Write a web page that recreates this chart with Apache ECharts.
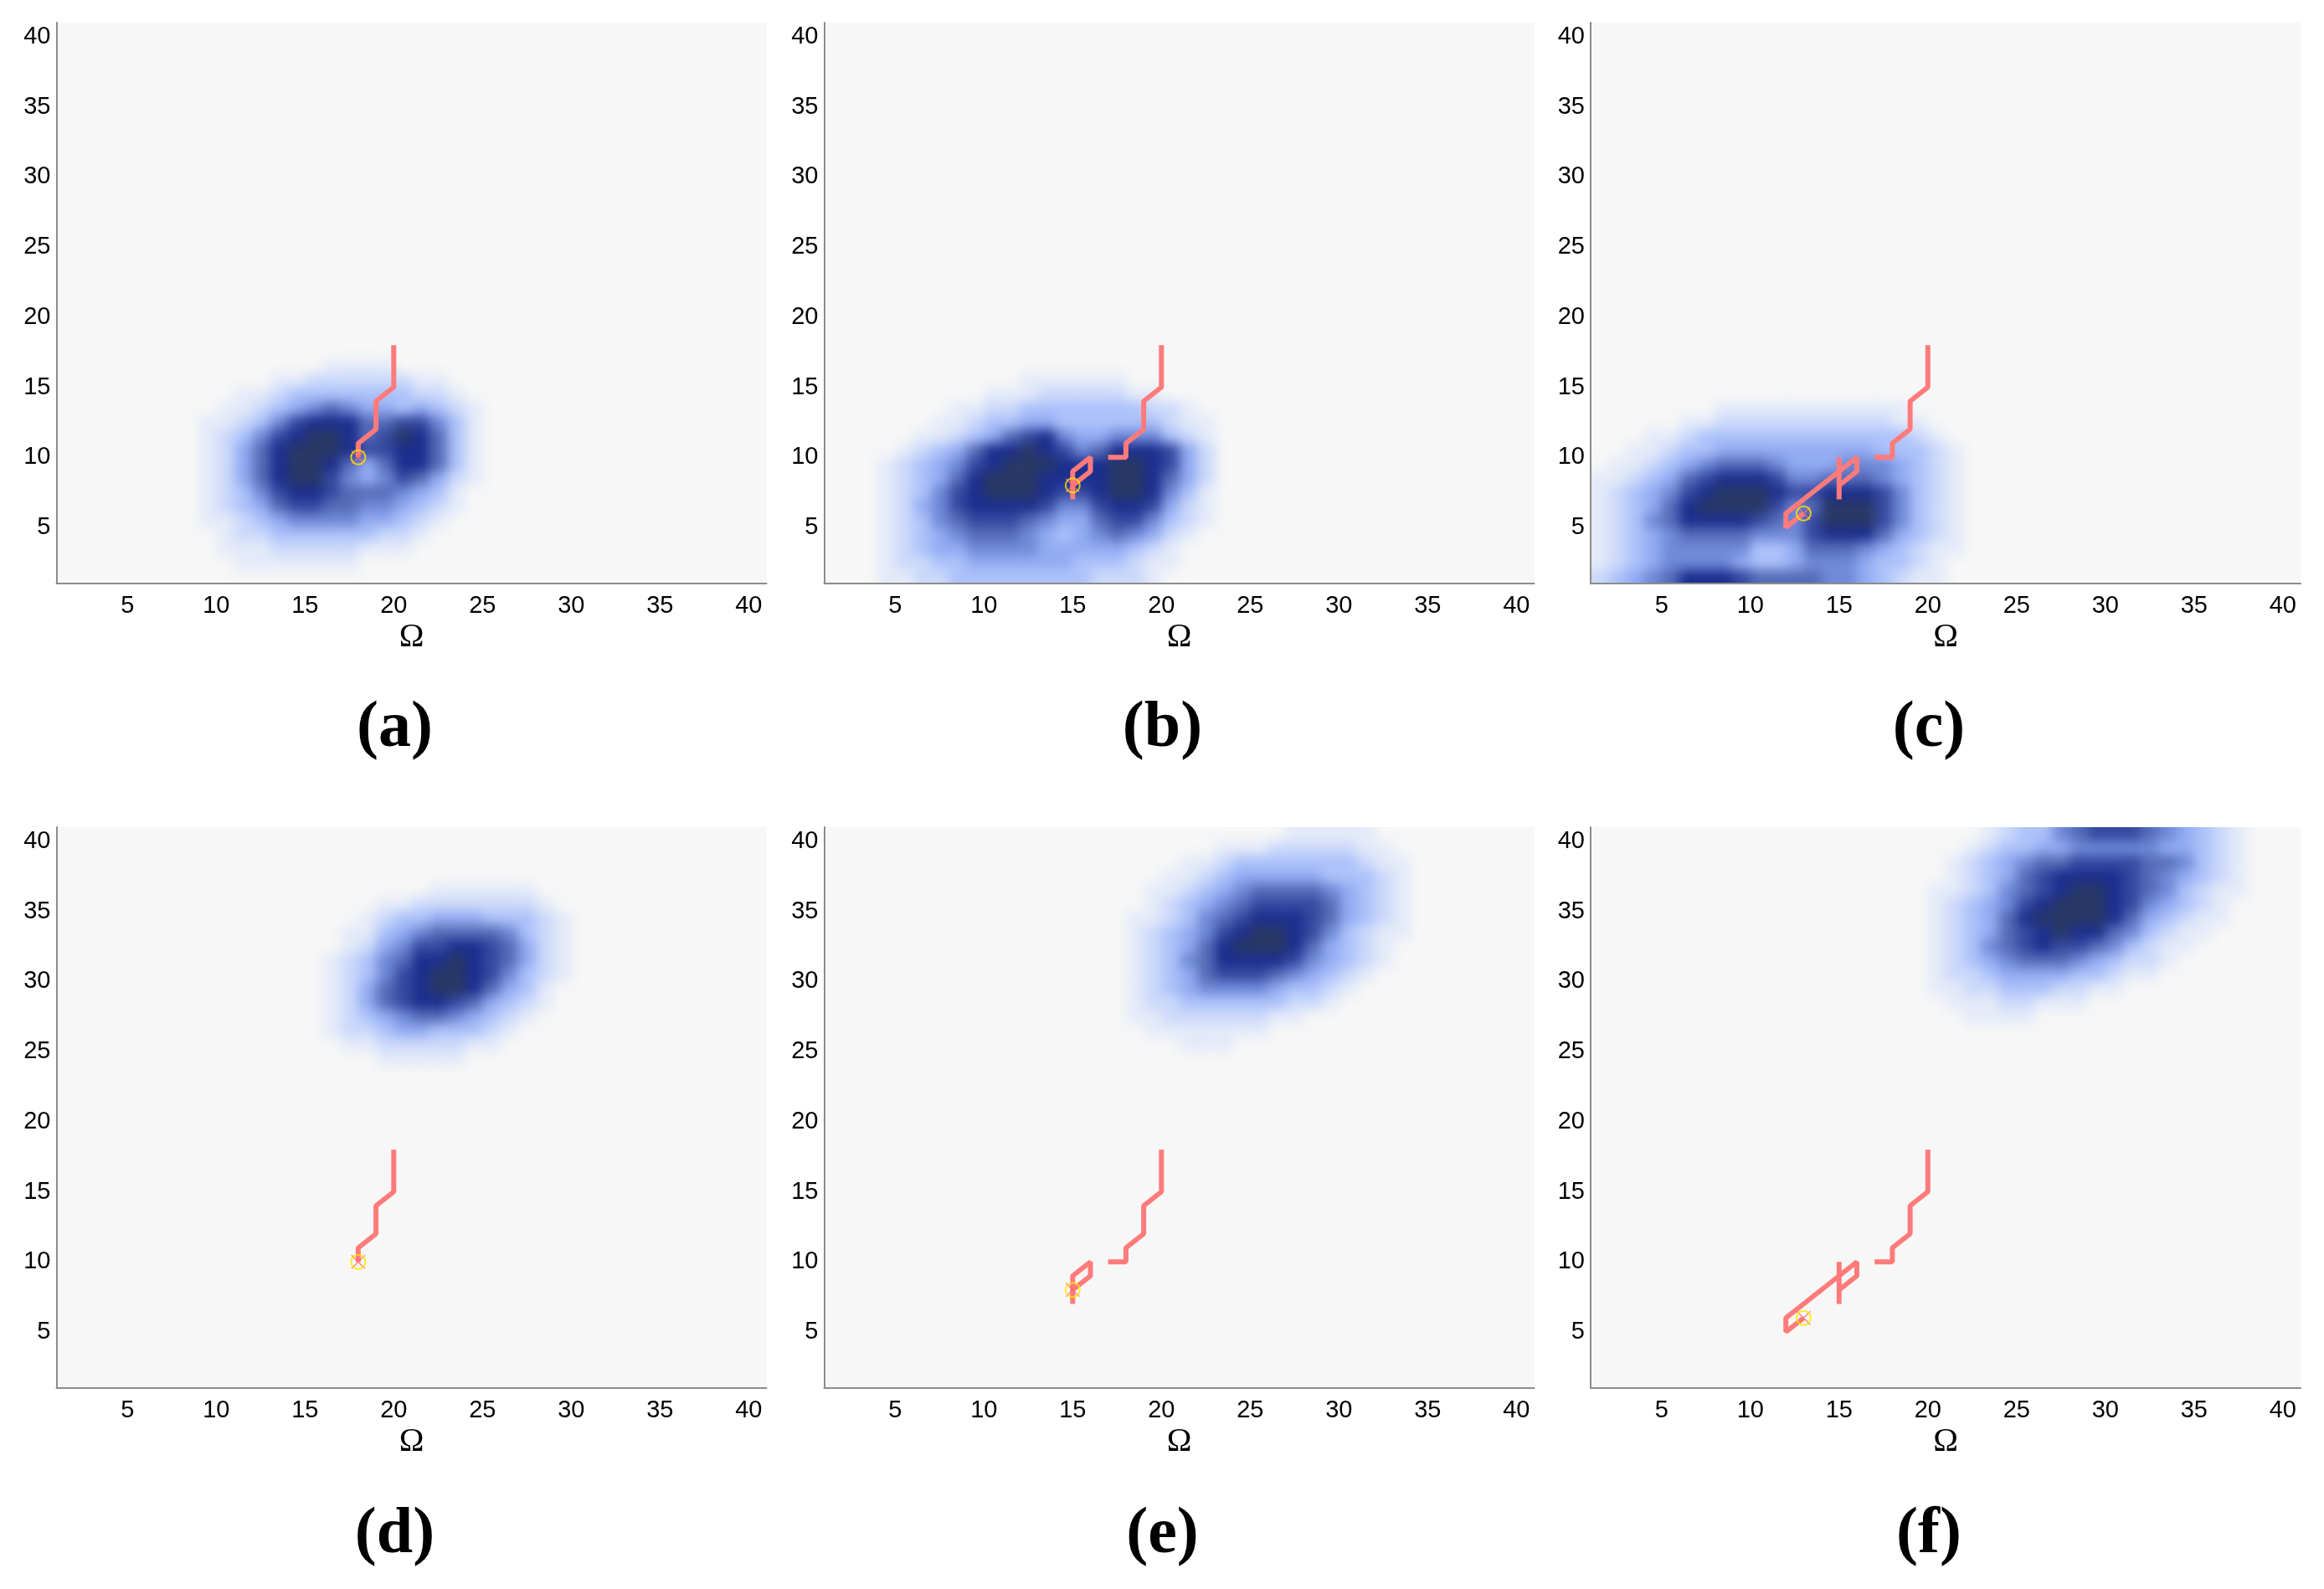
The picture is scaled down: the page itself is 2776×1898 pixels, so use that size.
<!DOCTYPE html>
<html>
<head>
<meta charset="utf-8">
<title>belief maps</title>
<script src="https://cdn.jsdelivr.net/npm/echarts@6/dist/echarts.min.js"></script>
<style>
html, body { margin: 0; padding: 0; background: #fff; }
#page { position: relative; width: 2776px; height: 1898px; }
.well { position: absolute; overflow: hidden; background: #f7f7f7; }
.smooth { position: absolute; filter: blur(7px); }
#overlay { position: absolute; left: 0; top: 0; width: 2776px; height: 1898px; }
</style>
</head>
<body>
<div id="page"><div id="overlay"></div></div>
<script>
// axis ticks
const ticks = [5, 10, 15, 20, 25, 30, 35, 40];
const panelNames = ['(a)', '(b)', '(c)', '(d)', '(e)', '(f)'];

// density levels 0-9, one string per row (top row first), one char per cell
// cell (x,y) covers [x,x+1] x [y,y+1]; start = [first x, top y]
const startA = [9, 16];
const densityA = [
  '0000000111100000',
  '0000112222221100',
  '0011233333332210',
  '0112345654434321',
  '1123578886677531',
  '1235789986798631',
  '1246899987788631',
  '1246899864688631',
  '1246899754576421',
  '1235788766654310',
  '1234677665543210',
  '1123455554432100',
  '0122333333221000',
  '0111222221110000',
  '0011111110000000'
];
const startB = [4, 15];
const densityB = [
  '0000000011111100000',
  '0000001112222211000',
  '0000112233333332210',
  '0001123344333333211',
  '0011234678544555321',
  '0123468898756888742',
  '1234578999888998742',
  '1234689998888998642',
  '1235789998778998531',
  '1245788887557887421',
  '1235677765446775321',
  '1234566654345654210',
  '1234455554444432100',
  '1223344444433321100',
  '1122333333332221000'
];
const startC = [1, 13];
const densityC = [
  '0000000111111111110000',
  '0000011222222222211000',
  '0001123333333333332100',
  '0011233444444444333210',
  '0112345666544455543210',
  '1123467888755666543210',
  '1234578999877888753210',
  '1234689999756999753210',
  '1235688887657999753210',
  '1234566665557888643210',
  '1234555553346665432110',
  '1234555543345554332100',
  '2345688876666554321100'
];
const startD = [16, 36];
const densityD = [
  '00000011111100',
  '00011222222210',
  '00123344433321',
  '01134566665321',
  '01245778876421',
  '12356889876421',
  '12357899875321',
  '12467899864310',
  '12467887643210',
  '12345665432100',
  '12234433321000',
  '01122222110000',
  '00011111000000'
];
const startE = [18, 40];
const densityE = [
  '0000000001111100',
  '0000011122222110',
  '0001123333333211',
  '0011234444433321',
  '0112345666654321',
  '0123456777764321',
  '1123567888764321',
  '1234578998753211',
  '1234689998643210',
  '1235688887543210',
  '1234677765432100',
  '1234555543321000',
  '1223333332210000',
  '1122222211000000',
  '0111111100000000',
  '0001110000000000'
];
const startF = [19, 40];
const densityF = [
  '00001233567776543210',
  '00012334455555443210',
  '00123456677776653210',
  '00123467888876543210',
  '01123567899876532110',
  '01234578999875432100',
  '01234689999864321100',
  '01234678988653211000',
  '01235678776532110000',
  '01234566654322100000',
  '01223444433211000000',
  '01122333221100000000',
  '00111221110000000000',
  '00011110000000000000'
];

// trajectories (segments) and current positions
const pathShort = [
  [[20, 18], [20, 15], [19, 14], [19, 12], [18, 11], [18, 10]]
];
const pathMid = [
  [[20, 18], [20, 15], [19, 14], [19, 12], [18, 11], [18, 10], [17, 10]],
  [[15, 7], [15, 9], [16, 10], [16, 9], [15, 8]]
];
const pathLong = [
  [[20, 18], [20, 15], [19, 14], [19, 12], [18, 11], [18, 10], [17, 10]],
  [[15, 7], [15, 9], [16, 10], [16, 9], [15, 8], [15, 10]],
  [[15, 9], [12, 6], [12, 5], [13, 6]]
];
const agentA = [18, 10];
const agentB = [15, 8];
const agentC = [13, 6];

const densities = [[densityA, startA], [densityB, startB], [densityC, startC],
                   [densityD, startD], [densityE, startE], [densityF, startF]];
const paths = [pathShort, pathMid, pathLong, pathShort, pathMid, pathLong];
const agents = [agentA, agentB, agentC, agentA, agentB, agentC];

// colour per level
const levelColors = ['rgba(0,0,0,0)', '#e4eaf8', '#cbd9fa', '#adc2fa', '#93abf2',
                     '#7189d8', '#566cb8', '#3649a0', '#1c2e8e', '#283866'];

// layout
const PLOT_W = 848, PLOT_H = 670;
const colLeft = [67.5, 984.5, 1900];
const rowTop = [27, 988];
const labelY = [871, 1834];
const PAD = 30;

function toCells(rows, start) {
  const out = [];
  rows.forEach((row, r) => {
    for (let c = 0; c < row.length; c++) {
      const v = Number(row[c]);
      if (v > 0) out.push([start[0] + c, start[1] - r, v]);
    }
  });
  return out;
}

const page = document.getElementById('page');
const overlayDom = document.getElementById('overlay');

// heat maps, one per panel, softened underneath the axes
densities.forEach((d, i) => {
  const col = i % 3, row = Math.floor(i / 3);
  const well = document.createElement('div');
  well.className = 'well';
  well.style.left = colLeft[col] + 'px';
  well.style.top = rowTop[row] + 'px';
  well.style.width = PLOT_W + 'px';
  well.style.height = PLOT_H + 'px';
  const inner = document.createElement('div');
  inner.className = 'smooth';
  inner.style.left = -PAD + 'px';
  inner.style.top = -PAD + 'px';
  inner.style.width = (PLOT_W + 2 * PAD) + 'px';
  inner.style.height = (PLOT_H + 2 * PAD) + 'px';
  well.appendChild(inner);
  page.insertBefore(well, overlayDom);

  const chart = echarts.init(inner);
  chart.setOption({
    animation: false,
    backgroundColor: 'transparent',
    grid: { left: PAD, top: PAD, width: PLOT_W, height: PLOT_H, outerBoundsMode: 'none' },
    xAxis: { type: 'value', min: 1, max: 41, show: false },
    yAxis: { type: 'value', min: 1, max: 41, show: false },
    series: [{
      type: 'custom',
      clip: false,
      renderItem: function (params, api) {
        const x = api.value(0), y = api.value(1), v = api.value(2);
        const tl = api.coord([x, y + 1]);
        const br = api.coord([x + 1, y]);
        let x0 = tl[0], y0 = tl[1], x1 = br[0], y1 = br[1];
        // push border cells past the frame so the blur does not fade them
        if (x === 1) x0 -= PAD;
        if (x === 40) x1 += PAD;
        if (y === 1) y1 += PAD;
        if (y === 40) y0 -= PAD;
        return {
          type: 'rect',
          shape: { x: x0, y: y0, width: x1 - x0 + 0.6, height: y1 - y0 + 0.6 },
          style: { fill: levelColors[v] }
        };
      },
      encode: { x: 0, y: 1 },
      data: toCells(d[0], d[1])
    }]
  });
});

// axes, paths, markers and labels on top
const grid = [], xAxis = [], yAxis = [], series = [], graphic = [];
for (let i = 0; i < 6; i++) {
  const col = i % 3, row = Math.floor(i / 3);
  grid.push({ left: colLeft[col], top: rowTop[row], width: PLOT_W, height: PLOT_H, outerBoundsMode: 'none' });
  xAxis.push({
    gridIndex: i, type: 'value', min: 1, max: 41,
    name: 'Ω', nameLocation: 'middle', nameGap: 44,
    nameTextStyle: { fontFamily: '"Liberation Serif", "Times New Roman", serif', fontSize: 40, color: '#000' },
    axisLine: { show: true, onZero: false, lineStyle: { color: '#8c8c8c', width: 2 } },
    axisTick: { show: false },
    splitLine: { show: false },
    axisLabel: { customValues: ticks, margin: 12, fontSize: 29, color: '#000',
                 fontFamily: 'Arial, "Liberation Sans", sans-serif' }
  });
  yAxis.push({
    gridIndex: i, type: 'value', min: 1, max: 41,
    axisLine: { show: true, onZero: false, lineStyle: { color: '#8c8c8c', width: 2 } },
    axisTick: { show: false },
    splitLine: { show: false },
    axisLabel: { customValues: ticks, margin: 7, fontSize: 29, color: '#000',
                 fontFamily: 'Arial, "Liberation Sans", sans-serif' }
  });
  paths[i].forEach(seg => {
    series.push({
      type: 'line', xAxisIndex: i, yAxisIndex: i, data: seg,
      symbol: 'none', z: 3,
      lineStyle: { color: '#ff7b7b', width: 6 }
    });
  });
  series.push({
    type: 'scatter', xAxisIndex: i, yAxisIndex: i, data: [agents[i]], z: 4,
    symbol: 'path://M0 0L10 10M10 0L0 10', symbolSize: 16,
    itemStyle: { color: 'rgba(0,0,0,0)', borderColor: '#ff6a6a', borderWidth: 1.5 }
  });
  series.push({
    type: 'scatter', xAxisIndex: i, yAxisIndex: i, data: [agents[i]], z: 5,
    symbol: 'circle', symbolSize: 17,
    itemStyle: { color: 'rgba(0,0,0,0)', borderColor: '#ffe600', borderWidth: 2 }
  });
  graphic.push({
    type: 'text', x: colLeft[col] + PLOT_W / 2 - 20, y: labelY[row],
    style: {
      text: panelNames[i], textAlign: 'center', textVerticalAlign: 'middle',
      font: 'bold 78px "Liberation Serif", "Times New Roman", serif', fill: '#000'
    }
  });
}

const overlay = echarts.init(overlayDom);
overlay.setOption({
  animation: false,
  backgroundColor: 'transparent',
  grid: grid,
  xAxis: xAxis,
  yAxis: yAxis,
  series: series,
  graphic: graphic
});
</script>
</body>
</html>
